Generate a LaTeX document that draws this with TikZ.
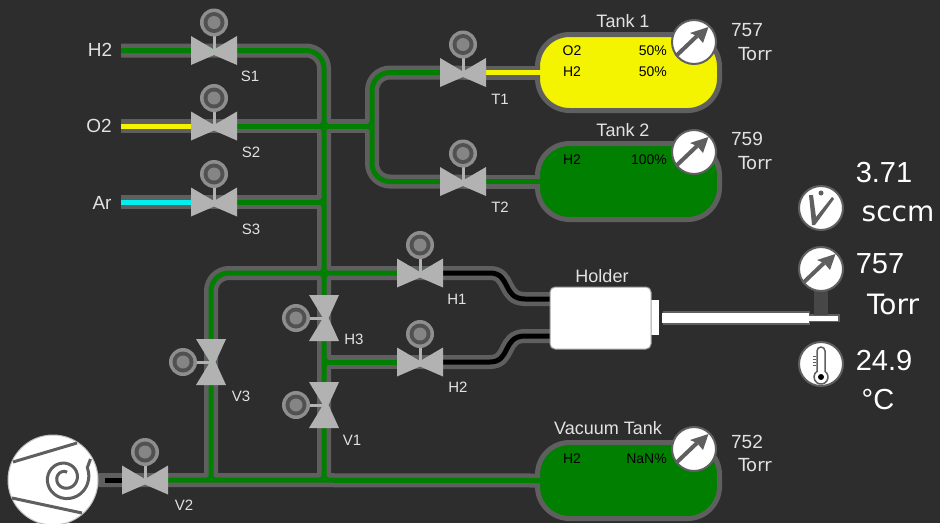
\documentclass[tikz,border=0pt]{standalone}
\usepackage{fontspec}
\setmainfont{Liberation Sans}
\newfontfamily\unitfont{DejaVu Sans}
\definecolor{bgc}{HTML}{2D2D2D}
\definecolor{pipec}{HTML}{5F5F5F}
\definecolor{valvec}{HTML}{B2B2B2}
\definecolor{gasgreen}{HTML}{007F00}
\definecolor{gasyellow}{HTML}{F4F400}
\definecolor{gascyan}{HTML}{00F0F0}
\definecolor{lbl}{HTML}{E2E2E2}
\newcommand{\fs}[1]{\fontsize{#1}{#1}\selectfont}
\tikzset{
  x=1pt,y=-1pt,
  pipeline/.style={line width=14pt,color=pipec,rounded corners=18pt},
  gasline/.style={line width=5pt,color=gasgreen,rounded corners=18pt},
  tankbox/.style={draw=pipec,line width=5pt,rounded corners=32pt,minimum width=182pt,minimum height=76pt,outer sep=0pt,inner sep=0pt},
  lab/.style={text=lbl,font=\fs{15},inner sep=0pt},
  inlet/.style={text=lbl,font=\fs{19},inner sep=0pt},
  tanktitle/.style={text=lbl,font=\fs{18},inner sep=0pt},
  readout/.style={text=lbl,font=\fs{19},inner sep=0pt},
  unitsmall/.style={text=lbl,font=\unitfont\fs{18},inner sep=0pt},
  bigread/.style={text=white,font=\fs{29},inner sep=0pt},
  bigunit/.style={text=white,font=\unitfont\fs{28},inner sep=0pt},
  gas/.style={text=black,font=\fs{14},inner sep=0pt},
  gaspct/.style={text=black,font=\fs{14},inner sep=0pt,anchor=east},
  dial/.style={circle,fill=white,draw=pipec,line width=2pt,minimum size=44pt,inner sep=0pt},
  actuator/.pic={
    \fill[color=valvec!80!black] (0,0) circle (14);
    \fill[color=pipec!85!black] (0,0) circle (10.5);
    \fill[color=valvec!75!black] (0,0) circle (6.5);
  },
  valveh/.pic={
    \fill[valvec] (-1.5,-15) rectangle (1.5,0);
    \fill[valvec] (-23,-14.5) -- (0,-1) -- (23,-14.5) -- (23,14.5) -- (0,4.5) -- (-23,14.5) -- cycle;
    \pic at (0,-28) {actuator};
  },
  valvev/.pic={
    \fill[valvec] (-15,-1.5) rectangle (0,1.5);
    \fill[valvec] (-15,-23) -- (15,-23) -- (4.5,0) -- (15,23) -- (-15,23) -- (-1,0) -- cycle;
    \pic at (-28,0) {actuator};
  },
  gaugeface/.pic={
    \draw[pipec,line width=4pt] (-18,14) -- (3,-6);
    \fill[pipec] (14.5,-15) -- (-4,-9) -- (3,-6) -- (9,1) -- cycle;
  },
  junctionr/.pic={\fill (0,-#1) -- (#1,0) -- (0,#1) -- cycle;},
  junctionl/.pic={\fill (0,-#1) -- (-#1,0) -- (0,#1) -- cycle;},
  junctionu/.pic={\fill (-#1,0) -- (0,-#1) -- (#1,0) -- cycle;},
  junctionx/.pic={\fill (-#1,0) -- (0,-#1) -- (#1,0) -- (0,#1) -- cycle;},
}
\newcommand{\joints}[1]{%
  \begin{scope}[color=#1]
  \pic[#1] at (cross1) {junctionx=\jsize};
  \pic[#1] at (cross2) {junctionx=\jsize};
  \pic[#1] at (j3) {junctionl=\jsize};
  \pic[#1] at (j5) {junctionr=\jsize};
  \pic[#1] at (mid) {junctionl=\jsize};
  \pic[#1] at (b1) {junctionu=\jsize};
  \pic[#1] at (b2) {junctionu=\jsize};
  \end{scope}}
\begin{document}
\begin{tikzpicture}
\useasboundingbox[fill=bgc] (0,0) rectangle (940,523);
% named points
\coordinate (S1) at (214,50.5);
\coordinate (S2) at (214,126);
\coordinate (S3) at (214,202);
\coordinate (T1) at (463,72.5);
\coordinate (T2) at (463,181.5);
\coordinate (H1) at (420,273);
\coordinate (H2) at (420,362);
\coordinate (H3) at (324,318);
\coordinate (V1) at (324,405);
\coordinate (V2) at (145,480);
\coordinate (V3) at (211,362);
\coordinate (inA) at (121,50.5);
\coordinate (inB) at (121,126);
\coordinate (inC) at (121,202);
\coordinate (c1) at (324,50.5);
\coordinate (cross1) at (324,126);
\coordinate (j3) at (324,202);
\coordinate (cross2) at (324,273);
\coordinate (j5) at (324,362);
\coordinate (b2) at (324,480);
\coordinate (k1) at (211,273);
\coordinate (b1) at (211,480);
\coordinate (mid) at (372,126);
\coordinate (m1) at (372,72.5);
\coordinate (m2) at (372,181.5);
\coordinate (h1a) at (550,299);
\coordinate (h2a) at (550,336);
\coordinate (pumpout) at (97,480);
% tanks
\node[tankbox,fill=gasyellow] (tank1) at (628.5,72.5) {};
\node[tankbox,fill=gasgreen] (tank2) at (628.5,181.5) {};
\node[tankbox,fill=gasgreen] (tank3) at (628.5,480.5) {};
% pipes
\newcommand{\net}[1]{%
  \draw[#1] (inA) -- (S1) -- (c1) -- (b2);
  \draw[#1] (inB) -- (S2) -- (cross1) -- (mid);
  \draw[#1] (inC) -- (S3) -- (j3);
  \draw[#1] (T1) -- (m1) -- (m2) -- (T2);
  \draw[#1] (H1) -- (k1) -- (b1);
  \draw[#1] (j5) -- (H2);
}
\newcommand{\scurves}[1]{%
  \draw[#1,sharp corners] (H1) -- (490,273) .. controls (511,273) and (502,299) .. (525,299) -- (h1a);
  \draw[#1,sharp corners] (H2) -- (490,362) .. controls (511,362) and (502,336) .. (525,336) -- (h2a);
}
\net{pipeline}
\draw[pipeline] (T1) -- (tank1.west);
\draw[pipeline] (T2) -- (tank2.west);
\draw[pipeline] (pumpout) -- (V2) -- (tank3.west);
\scurves{pipeline}
\def\jsize{11}
\joints{pipec}
\net{gasline}
\draw[gasline,gasyellow] (inB) -- (S2);
\draw[gasline,gascyan] (inC) -- (S3);
\draw[gasline,gasyellow,shorten >=-4pt] (T1) -- (tank1.west);
\draw[gasline,shorten >=-4pt] (T2) -- (tank2.west);
\draw[gasline,shorten >=-4pt] (V2) -- (tank3.west);
\draw[gasline,black] (105,480) -- (V2);
\scurves{gasline,black}
\def\jsize{6.5}
\joints{gasgreen}
% valves
\pic at (S1) {valveh};
\pic at (S2) {valveh};
\pic at (S3) {valveh};
\pic at (T1) {valveh};
\pic at (T2) {valveh};
\pic at (H1) {valveh};
\pic at (H2) {valveh};
\pic at (V2) {valveh};
\pic at (H3) {valvev};
\pic at (V1) {valvev};
\pic at (V3) {valvev};
% pump
\node[circle,fill=white,draw=white!70!bgc,line width=1pt,minimum size=90pt,inner sep=0pt] (pump) at (53,480) {};
\draw[pipec,line width=3pt] (13,462) -- (77,443);
\draw[pipec,line width=3pt] (12,498) -- (82,513);
\draw[pipec,line width=3pt] plot[smooth,domain=70:745,samples=60] ({65+(5+0.015*\x+0.00002*\x*\x)*cos(\x)},{478-(5+0.015*\x+0.00002*\x*\x)*sin(\x)}) -- (90.5,459);
% holder
\draw[pipec,line width=2pt] (664,312) rectangle (809,324);
\draw[pipec,line width=1.5pt] (809,315) rectangle (839,321.5);
\fill[white] (662,313) rectangle (809,323);
\fill[white] (809,316) rectangle (838,321);
\fill[white] (651,300) rectangle (659,335);
\node[draw=pipec!60,line width=1pt,fill=white,rounded corners=5pt,minimum width=101pt,minimum height=62pt,inner sep=0pt] (holder) at (600.5,318) {};
% dials
\fill[pipec!75!black] (814,288) rectangle (828,315);
\node[dial] (g1) at (694,42) {};
\node[dial] (g2) at (694,152) {};
\node[dial] (g3) at (694,449) {};
\node[dial] (g4) at (821,269) {};
\node[dial] (flow) at (821,208) {};
\node[dial] (therm) at (821,364) {};
\pic at (g1) {gaugeface};
\pic at (g2) {gaugeface};
\pic at (g3) {gaugeface};
\pic at (g4) {gaugeface};
% flow icon
\begin{scope}[shift={(flow)}]
\fill[pipec] (-12,-13) -- (-8,-13) -- (-5,9) -- (11,-11) -- (13,-9) -- (-6,17) -- (-9,17) -- cycle;
\fill[pipec] (0,-15) circle (2.5);
\end{scope}
% thermometer icon
\begin{scope}[shift={(therm)}]
\draw[pipec,line width=1.5pt,fill=white] (-4,7.3) -- (-4,-13) arc[start angle=180,end angle=360,radius=4] -- (4,7.3) arc[start angle=-55,end angle=235,radius=7] -- cycle;
\fill[black] (0,13) circle (3);
\draw[pipec,line width=1pt] (-8.5,-8) -- (-5,-8) (-8.5,-5) -- (-5,-5) (-8.5,-2) -- (-5,-2) (-8.5,1) -- (-5,1);
\end{scope}
% texts
\node[inlet] (tA) at (100,50) {H2};
\node[inlet] (tB) at (99,126) {O2};
\node[inlet] (tC) at (102,203) {Ar};
\node[lab] (lS1) at (250,76) {S1};
\node[lab] (lS2) at (251,152) {S2};
\node[lab] (lS3) at (251,229) {S3};
\node[lab] (lT1) at (500,99) {T1};
\node[lab] (lT2) at (500,207) {T2};
\node[lab] (lH1) at (457,299) {H1};
\node[lab] (lH2) at (458,387) {H2};
\node[lab] (lH3) at (354,339) {H3};
\node[lab] (lV1) at (352,440) {V1};
\node[lab] (lV2) at (184,505) {V2};
\node[lab] (lV3) at (241,396) {V3};
\node[tanktitle] (n1) at (623,21) {Tank 1};
\node[tanktitle] (n2) at (623,130) {Tank 2};
\node[tanktitle] (n3) at (608,428) {Vacuum Tank};
\node[tanktitle] (n4) at (602,276) {Holder};
\node[readout] (p1) at (747,30) {757};
\node[unitsmall] (u1) at (755,54) {Torr};
\node[readout] (p2) at (747,139) {759};
\node[unitsmall] (u2) at (755,163) {Torr};
\node[readout] (p3) at (747,442) {752};
\node[unitsmall] (u3) at (755,465) {Torr};
\node[gas] (a1) at (572,51) {O2};
\node[gaspct] (a2) at (667,51) {50\%};
\node[gas] (a3) at (572,72) {H2};
\node[gaspct] (a4) at (667,72) {50\%};
\node[gas] (a5) at (572,160) {H2};
\node[gaspct] (a6) at (667,160) {100\%};
\node[gas] (a7) at (572,459) {H2};
\node[gaspct] (a8) at (667,459) {NaN\%};
\node[bigread] (r1) at (884,173) {3.71};
\node[bigunit] (r2) at (898,214) {sccm};
\node[bigread] (r3) at (880,264) {757};
\node[bigunit] (r4) at (893,304) {Torr};
\node[bigread] (r5) at (884,361) {24.9};
\node[bigread] (r6) at (878,400) {°C};
\end{tikzpicture}
\end{document}
